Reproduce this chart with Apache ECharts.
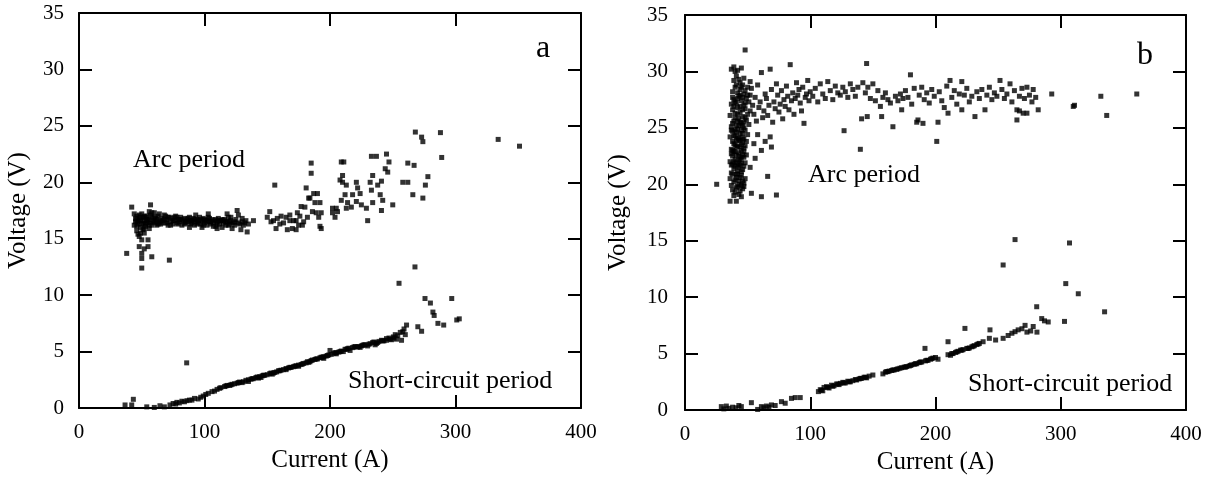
<!DOCTYPE html>
<html>
<head>
<meta charset="utf-8">
<script src="https://cdn.jsdelivr.net/npm/echarts@6/dist/echarts.min.js"></script>
<style>
html,body{margin:0;padding:0;background:#fff;}
#chart{width:1207px;height:486px;}
</style>
</head>
<body>
<div id="chart"></div>
<script>
// ---- Data (Current A, Voltage V) ----
var xTicks = [0, 100, 200, 300, 400];
var yTicks = [0, 5, 10, 15, 20, 25, 30, 35];
var xTitle = 'Current (A)';
var yTitle = 'Voltage (V)';
var panelLabels = ['a', 'b'];
var annotations = ['Arc period', 'Short-circuit period'];

// Panel a: arc period
var arcA = [
[38,13.7],[42,17.8],[46,16.1],[47,15.4],[48,15.2],[48,14.3],[49,16.6],[50,14.9],[50,13.7],[50,13.25],[50,12.4],[51,15.8],[51,16.9],[52,14.1],[52,15.5],[53,16.3],[54,17.0],[55,14.9],[55,14.3],[56,15.9],[57,18.0],[57,16.4],[58,13.4],[58,17.3],[72,13.1],
[44,16.2],[45,16.8],[45,16.5],[46,17.0],[47,16.3],[48,16.7],[49,16.0],[50,17.2],[52,16.6],[53,16.9],[54,16.4],[56,16.7],[57,17.1],[58,16.2],[59,16.6],[60,16.9],[61,16.4],[62,16.7],[63,17.0],[64,16.5],[65,16.3],[66,16.8],[67,16.6],[68,17.1],[69,16.4],[70,16.7],[71,16.2],[72,16.9],[73,16.5],[74,16.8],[75,16.3],[76,16.6],[77,17.0],[78,16.4],[79,16.7],[80,16.5],[81,16.9],[82,16.2],[83,16.6],[84,16.8],[85,16.4],[86,16.7],[87,16.5],[88,16.9],[89,16.3],[90,16.6],[91,16.8],[92,16.2],[93,16.5],[94,16.7],[95,16.4],[96,16.9],[97,16.3],[98,16.6],[99,16.8],[100,16.4],[101,16.6],[102,16.2],[103,16.9],[104,16.5],[105,16.3],[106,16.7],[107,16.4],[108,16.6],[109,16.1],[110,16.5],[111,16.8],[112,16.3],[113,16.6],[114,16.0],[115,16.4],[116,16.7],[117,16.2],[118,16.5],[119,16.9],[120,16.3],[121,16.6],[122,15.9],[123,16.4],[124,16.2],[125,16.7],[126,17.5],[127,17.1],[128,16.3],[129,15.8],[130,16.5],[131,16.2],[133,16.6],[134,15.6],[135,16.3],[139,16.6],
[47,16.5],[51,16.4],[55,16.6],[60,16.5],[65,16.6],[70,16.4],[75,16.6],[80,16.7],[85,16.5],[90,16.4],[95,16.6],[100,16.7],[105,16.5],[110,16.3],[115,16.6],[120,16.5],[49,16.9],[53,16.1],[62,16.2],[78,16.9],
[46,16.6],[48,17.1],[50,16.3],[52,17.0],[54,16.7],[56,16.2],[58,16.9],[61,16.8],[63,16.3],[66,16.4],[68,16.7],[71,16.9],[73,16.2],[76,16.9],[79,16.3],[82,16.7],[84,16.3],[87,16.8],[89,16.6],[92,16.7],[94,16.3],[97,16.7],[99,16.2],[102,16.6],[104,16.8],[107,16.1],[109,16.7],[112,16.6],[114,16.7],[117,16.5],[119,16.2],[121,16.9],[124,16.5],[127,16.4],[130,16.8],[132,16.4],[46,15.7],[49,15.5],[52,15.9],[44,17.2],[56,17.4],[60,17.3],[64,17.2],[69,17.0],[93,17.1],[103,17.2],[118,17.2],[88,16.0],[98,16.0],[110,15.9],
[150,16.9],[152,17.4],[153,16.5],[155,16.6],[156,19.75],[157,15.9],[158,16.8],[160,16.3],[161,17.0],[163,16.4],[165,16.9],[166,15.8],[168,17.1],[170,15.9],[171,16.6],[173,16.6],[174,17.3],[175,16.2],[177,17.85],[178,16.2],[179,16.5],[180,17.8],[181,19.5],[182,16.9],[183,18.6],[184,18.6],[185,21.7],[185,20.8],[186,17.4],[187,19.0],[188,18.2],[189,17.3],[190,19.0],[191,16.9],[192,18.2],[192,16.1],[193,15.9],[193,17.3],[173,15.8],[168,16.6],[176,17.0],
[202,17.3],[202,17.7],[204,16.9],[205,17.7],[206,17.4],[208,20.2],[209,18.4],[209,21.8],[210,20.0],[210,20.6],[211,21.8],[212,18.9],[213,19.75],[213,17.7],[214,18.2],[217,17.8],[218,18.9],[221,20.0],[221,18.3],[222,19.5],[224,19.0],[225,18.0],[229,17.7],[230,16.6],[232,20.0],[233,19.3],[233,22.3],[234,20.6],[234,18.2],[237,22.3],[238,19.75],[240,18.9],[241,20.1],[241,17.5],[242,18.4],[244,21.2],[245,22.5],[246,20.9],[247,21.8],[250,18.0],
[258,20.0],[262,20.0],[262,21.7],[266,18.9],[267,21.5],[268,24.45],[273,24.0],[274,23.6],[274,18.6],[276,19.75],[278,20.5],[288,24.4],[289,22.2],[334,23.8],[351,23.2]
];

// Panel a: short-circuit period
var shortA = [
[36.7,0.27],[42,0.27],[43.3,0.77],[54,0.1],[60,0.05],[64.5,0.2],[68,0.1],[72.5,0.27],[75,0.4],[77,0.35],[78,0.5],[80,0.45],[82,0.6],[84,0.55],[85.8,4.0],[86,0.65],[88,0.7],[90,0.7],[92,0.85],[95,0.8],[97,0.95],[99,1.06],[101,1.2],[103,1.3],[106,1.45],[108,1.5],[110,1.65],[113,1.8],[116,1.9],[118,2.0],[120,2.0],[122,2.1],[124,2.15],[126,2.2],[128,2.3],[130,2.25],[131,2.33],[133,2.45],[135,2.5],[137,2.55],[139,2.6],[141,2.7],[143,2.65],[144,2.78],[146,2.85],[148,2.9],[150,2.95],[152,3.05],[154,3.0],[156,3.15],[157.5,3.2],[159,3.3],[161,3.35],[163,3.4],[165,3.5],[167,3.55],[169,3.6],[171,3.66],[173,3.75],[175,3.8],[177,3.85],[179,3.95],[181,4.0],[182,4.1],[184,4.1],[186,4.25],[188,4.3],[190,4.35],[192,4.45],[194,4.5],[195,4.4],[197,4.6],[199,4.7],[200,5.1],[201,4.75],[203,4.85],[205,4.9],[207,4.95],[209,5.05],[210.6,5.0],[212,5.2],[214,5.25],[216,5.1],[218,5.35],[220,5.45],[222,5.4],[224,5.37],[226,5.55],[228,5.6],[230,5.5],[232,5.7],[234,5.8],[236,5.6],[237,5.72],[239,5.9],[241,6.0],[243,5.95],[245,6.15],[247,6.2],[249,6.05],[250.5,6.3],[252,6.5],[254,6.4],[255,11.05],[256,6.7],[257,6.0],[258,6.76],[259,7.0],[260,6.5],[261,7.35],[267.7,12.5],[270,7.2],[273,6.8],[275.7,9.7],[280,9.3],[282,8.5],[283,8.2],[286,7.5],[290.6,7.35],[297,9.7],[301,7.8],[303,7.9],
[135,2.35],[145,2.7],[155,3.1],[165,3.4],[175,3.7],[185,4.2],[195,4.55],[205,4.8],[215,5.3],[225,5.5],[235,5.85],[245,6.0],[253,6.1],
[112,1.75],[117,1.95],[121,2.05],[127,2.25],[138,2.6],[142,2.75],[147,2.9],[153,3.1],[160,3.3],[168,3.6],[172,3.7],[178,3.9],[183,4.05],[189,4.35],[193,4.5],[198,4.65],[204,4.9],[208,5.0],[213,5.2],[219,5.4],[223,5.45],[227,5.6],[231,5.65],[238,5.8],[242,5.95],[248,6.1],[251,6.2]
];

// Panel b: arc period
var arcB = [
[36,18.5],[41,18.5],[38,19.5],[40,19.3],[42,19.8],[44,19.4],[46,19.6],[39,20.2],[41,20.6],[43,20.3],[45,20.8],[47,20.1],[37,21.0],[39,21.4],[42,21.2],[44,21.7],[46,21.3],[48,21.9],[36,22.0],[38,22.5],[40,22.2],[43,22.8],[45,22.4],[47,22.9],[49,22.6],[37,23.1],[39,23.6],[41,23.3],[43,23.9],[45,23.5],[47,23.2],[49,23.8],[36,24.2],[38,24.7],[40,24.3],[42,24.9],[44,24.5],[46,24.1],[48,24.8],[50,24.4],[37,25.1],[39,25.6],[41,25.2],[43,25.8],[45,25.4],[47,25.0],[49,25.7],[51,25.3],[36,26.1],[38,26.6],[40,26.3],[42,26.8],[44,26.4],[46,26.0],[48,26.7],[50,26.2],[52,26.5],[37,27.1],[39,27.5],[41,27.2],[43,27.8],[45,27.4],[47,27.0],[49,27.6],[51,27.3],[38,28.2],[40,28.6],[42,28.1],[44,28.4],[46,28.8],[48,28.3],[39,29.2],[41,29.6],[44,29.0],[47,29.4],[37,30.2],[40,30.0],[45,30.3],[48,31.9],[25.3,20.0],
[38,21.8],[40,22.9],[41,23.9],[42,21.7],[43,22.1],[44,23.3],[45,21.1],[46,22.6],[40,24.8],[42,25.6],[44,26.9],[46,25.2],[41,20.9],[43,20.0],[45,19.9],[39,26.9],[43,24.1],[47,24.0],[38,23.0],[42,23.4],[44,22.2],[40,21.6],[46,23.7],[48,20.5],
[37,19.9],[39,19.0],[41,19.7],[43,19.1],[45,18.9],[47,19.8],[36,20.5],[38,20.9],[40,20.4],[42,20.9],[44,20.6],[46,20.3],[37,21.7],[39,22.0],[41,21.9],[43,21.5],[45,21.9],[47,21.6],[37,22.7],[39,22.9],[41,22.6],[43,22.5],[45,23.0],[47,22.4],[38,23.8],[40,23.5],[42,24.1],[44,23.9],[46,24.5],[48,23.4],[37,24.8],[39,24.3],[41,24.6],[43,25.2],[45,24.8],[47,25.5],[38,25.4],[40,25.9],[42,26.2],[44,25.5],[46,26.6],[48,25.9],[38,27.7],[40,27.3],[42,27.6],[44,27.9],[46,27.7],[48,27.2],[41,28.8],[43,29.3],[45,28.6],[47,28.0],[42,30.1],[39,30.4],[50,28.6],[52,27.9],
[53,19.2],[61,18.9],[66,20.7],[73,19.05],[58,24.4],[61,23.0],[64,23.8],[68,24.2],[69,23.3],[55,23.6],[52,21.5],[56,22.3],
[50,27.9],[52,29.1],[53,28.5],[54,27.0],[55,26.2],[56,27.7],[57,25.6],[58,28.8],[59,26.8],[60,27.3],[61,29.9],[62,25.9],[63,26.5],[64,28.0],[65,27.6],[66,26.1],[67,27.0],[68,30.2],[69,28.4],[70,25.5],[71,27.3],[72,26.7],[73,28.9],[74,27.9],[75,26.4],[76,27.1],[77,28.3],[78,25.8],[79,27.5],[80,26.9],[81,28.7],[82,27.8],[83,26.6],[84,30.6],[85,27.4],[86,28.1],[87,26.2],[88,27.6],[89,29.0],[90,27.9],[91,28.4],[92,27.2],[93,26.5],[94,28.6],[95,25.4],[96,27.7],[97,28.0],[98,29.2],[99,27.4],[100,28.2],[102,27.8],[104,28.5],[106,27.3],[108,28.9],[110,28.0],[112,27.6],[114,29.1],[116,28.3],[118,27.5],[120,28.7],[122,28.1],[124,27.9],[127,24.75],[126,28.6],[128,28.2],[130,27.7],[132,28.9],[134,28.4],[136,27.8],[138,28.6],[140,23.1],[141,25.8],[142,29.0],[144,28.1],[145,30.7],[145.5,26.0],[146,28.6],[148,27.6],[150,28.9],[152,27.4],[154,28.3],[156,26.9],[157,26.0],[158,27.7],[160,28.1],[162,27.5],[164,27.2],[166,25.1],[168,27.8],[170,27.4],[172,28.0],[173,26.6],[174,27.6],[176,28.3],[178,27.7],[180,29.7],[181,27.1],[183,28.5],[185,25.5],[186,25.7],[187,27.9],[189,28.6],[190,25.4],[191,27.5],[193,28.1],[195,27.2],[197,28.4],[199,27.8],[201,23.8],[202,25.5],[203,28.2],[205,27.4],[207,26.8],[209,28.7],[210,26.3],[211.6,29.2],[213,27.7],[215,28.3],[217,27.1],[219,28.0],[221,29.1],[221,26.6],[223,27.9],[225,28.5],[227,27.3],[229,27.8],[231.5,26.0],[233,28.2],[235,27.6],[237,28.4],[239.5,26.6],[241,27.9],[243,28.6],[245,27.5],[247,28.1],[249,27.8],[251.5,29.2],[253,28.4],[255,27.6],[257,28.0],[259.5,28.9],[261,27.3],[263,28.3],[265,25.7],[265,26.6],[267,26.5],[267,27.8],[269,28.5],[270,26.3],[271,27.6],[273,28.6],[273,26.3],[275,27.9],[277,27.3],[278,28.4],[280,27.7],[282,26.6],[292.8,28.0],[310,26.9],[311,27.0],[332,27.8],[336.7,26.1],[360.7,28.0]
];

// Panel b: short-circuit period
var shortB = [
[29,0.3],[31,0.1],[33,0.35],[35,0.15],[38,0.25],[40.8,0.2],[43,0.4],[45,0.3],[53,0.65],[58,0.05],[61,0.3],[63,0.2],[65,0.35],[67,0.25],[69,0.45],[72,0.4],[77,0.74],[80,0.6],[85,1.03],[88,1.1],[92,1.1],[106.5,1.63],[108,1.8],[110,1.7],[111,2.0],[113,2.07],[115,1.95],[117,2.2],[119,2.15],[121,2.3],[123,2.25],[124,2.36],[126,2.45],[128,2.4],[130,2.55],[132,2.5],[134,2.6],[137,2.66],[139,2.75],[141,2.8],[143,2.9],[145,2.85],[147,3.0],[150,3.1],[158,3.2],[160,3.35],[161,3.4],[163,3.45],[165,3.5],[167,3.55],[169,3.6],[171.6,3.7],[173,3.75],[175,3.8],[177,3.85],[179,3.9],[181,4.0],[183,4.05],[185,4.1],[187,4.2],[189,4.25],[191.6,5.46],[192,4.35],[194,4.4],[196,4.5],[198,4.6],[200,4.65],[202,4.5],[210,4.9],[210,6.05],[212,4.85],[214,5.0],[216,5.1],[218,5.2],[220,5.3],[222,5.35],[223.5,7.23],[225,5.46],[227,5.5],[229,5.6],[231,5.7],[233,5.8],[235,5.9],[238,6.05],[243,6.35],[243.5,7.1],[248,6.2],[254,6.35],[254,12.85],[258,6.6],[261,6.8],[263.5,6.94],[263.5,15.1],[266,7.1],[269,7.2],[271.5,7.5],[273,6.9],[276,7.0],[278,7.4],[281,6.9],[280.8,9.15],[284.8,8.1],[287,7.9],[290,7.8],[303,7.85],[304,11.2],[307,14.8],[314,10.3],[335,8.7],
[109,1.75],[114,2.0],[118,2.1],[122,2.3],[127,2.4],[131,2.5],[136,2.7],[140,2.8],[144,2.9],[162,3.4],[166,3.55],[170,3.65],[176,3.8],[180,3.95],[184,4.1],[188,4.25],[193,4.4],[197,4.55],[213,5.0],[217,5.15],[221,5.3],[226,5.45],[230,5.65],[234,5.85]
];

var FONT = '"Liberation Serif","Times New Roman",serif';
var chart = echarts.init(document.getElementById('chart'), null, {renderer: 'canvas'});

function xBottom(gi, gap) {
  return {
    type: 'value', gridIndex: gi, position: 'bottom',
    min: xTicks[0], max: xTicks[xTicks.length - 1], interval: xTicks[1] - xTicks[0],
    name: xTitle, nameLocation: 'middle', nameGap: gap,
    nameTextStyle: {fontFamily: FONT, fontSize: 25, color: '#000'},
    axisLine: {show: true, onZero: false, lineStyle: {color: '#000', width: 2}},
    axisTick: {show: true, inside: true, length: 13, lineStyle: {color: '#000', width: 2}},
    axisLabel: {show: true, margin: 14, fontFamily: FONT, fontSize: 21, color: '#000'},
    splitLine: {show: false}
  };
}
function xTop(gi) {
  return {
    type: 'value', gridIndex: gi, position: 'top',
    min: xTicks[0], max: xTicks[xTicks.length - 1], interval: xTicks[1] - xTicks[0],
    axisLine: {show: true, onZero: false, lineStyle: {color: '#000', width: 2}},
    axisTick: {show: true, inside: true, length: 13, lineStyle: {color: '#000', width: 2}},
    axisLabel: {show: false}, splitLine: {show: false}
  };
}
function yLeft(gi, gap, lblMargin) {
  return {
    type: 'value', gridIndex: gi, position: 'left',
    min: yTicks[0], max: yTicks[yTicks.length - 1], interval: yTicks[1] - yTicks[0],
    name: yTitle, nameLocation: 'middle', nameGap: gap, nameRotate: 90,
    nameTextStyle: {fontFamily: FONT, fontSize: 25, color: '#000'},
    axisLine: {show: true, onZero: false, lineStyle: {color: '#000', width: 2}},
    axisTick: {show: true, inside: true, length: 13, lineStyle: {color: '#000', width: 2}},
    axisLabel: {show: true, margin: lblMargin, fontFamily: FONT, fontSize: 21, color: '#000'},
    splitLine: {show: false}
  };
}
function yRight(gi) {
  return {
    type: 'value', gridIndex: gi, position: 'right',
    min: yTicks[0], max: yTicks[yTicks.length - 1], interval: yTicks[1] - yTicks[0],
    axisLine: {show: true, onZero: false, lineStyle: {color: '#000', width: 2}},
    axisTick: {show: true, inside: true, length: 13, lineStyle: {color: '#000', width: 2}},
    axisLabel: {show: false}, splitLine: {show: false}
  };
}
function sc(data, xi, yi) {
  return {
    type: 'scatter', xAxisIndex: xi, yAxisIndex: yi, data: data,
    symbol: 'rect', symbolSize: 5,
    itemStyle: {color: '#000'}, silent: true
  };
}
function txt(str, x, y, size) {
  return {
    type: 'text', left: x, top: y, silent: true,
    style: {text: str, font: size + 'px ' + FONT, fill: '#000'}
  };
}

chart.setOption({
  animation: false,
  backgroundColor: '#fff',
  grid: [
    {left: 79, top: 13, width: 502, height: 395, containLabel: false},
    {left: 685, top: 15, width: 501, height: 395, containLabel: false}
  ],
  xAxis: [xBottom(0, 38), xTop(0), xBottom(1, 38), xTop(1)],
  yAxis: [yLeft(0, 48, 15), yRight(0), yLeft(1, 54, 17), yRight(1)],
  series: [sc(arcA, 0, 0), sc(shortA, 0, 0), sc(arcB, 2, 2), sc(shortB, 2, 2)],
  graphic: [
    txt(annotations[0], 133, 147, 26),
    txt(annotations[1], 348, 368, 26),
    txt(panelLabels[0], 536, 33, 32),
    txt(annotations[0], 808, 162, 26),
    txt(annotations[1], 968, 371, 26),
    txt(panelLabels[1], 1137, 40, 32)
  ]
});
</script>
</body>
</html>
